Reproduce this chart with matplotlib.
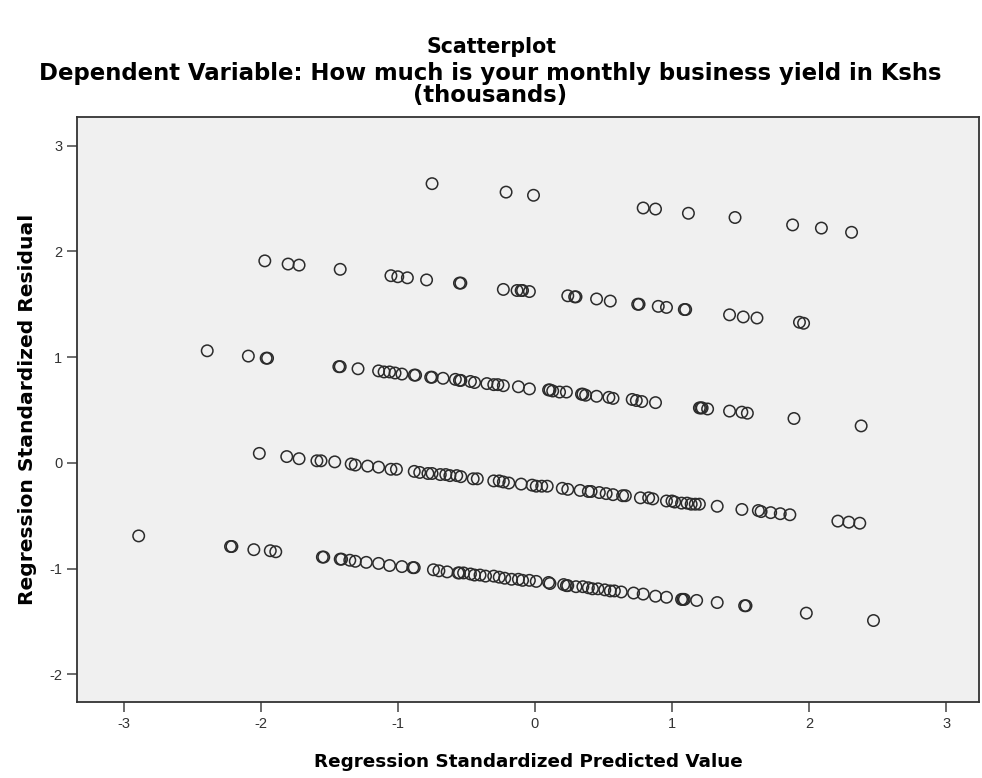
import matplotlib

matplotlib.use("Agg")

import matplotlib.pyplot as plt
import numpy as np

plt.rcParams["font.family"] = ["Liberation Sans", "DejaVu Sans"]
plt.rcParams["axes.unicode_minus"] = False

# Standardized predicted value (x) and standardized residual (y), read off
# the picture band by band (one band per observed yield level).
band1_x = [-0.75, -0.21, -0.01, 0.79, 0.88, 1.12, 1.46, 1.88, 2.09, 2.31]
band1_y = [2.64, 2.56, 2.53, 2.41, 2.40, 2.36, 2.32, 2.25, 2.22, 2.18]

band2_x = [-1.97, -1.80, -1.72, -1.42, -1.05, -1.00, -0.93, -0.79, -0.55,
           -0.54, -0.23, -0.13, -0.10, -0.09, -0.04, 0.24, 0.29, 0.30, 0.45,
           0.55, 0.75, 0.76, 0.90, 0.96, 1.09, 1.10, 1.42, 1.52, 1.62, 1.93,
           1.96]
band2_y = [1.91, 1.88, 1.87, 1.83, 1.77, 1.76, 1.75, 1.73, 1.70, 1.70, 1.64,
           1.63, 1.63, 1.63, 1.62, 1.58, 1.57, 1.57, 1.55, 1.53, 1.50, 1.50,
           1.48, 1.47, 1.45, 1.45, 1.40, 1.38, 1.37, 1.33, 1.32]

band3_x = [-2.39, -2.09, -1.96, -1.95, -1.43, -1.42, -1.29, -1.14, -1.10,
           -1.06, -1.02, -0.97, -0.88, -0.87, -0.76, -0.75, -0.67, -0.58,
           -0.55, -0.54, -0.47, -0.44, -0.35, -0.30, -0.27, -0.23, -0.12,
           -0.04, 0.10, 0.11, 0.13, 0.18, 0.23, 0.34, 0.35, 0.37, 0.45, 0.54,
           0.57, 0.71, 0.74, 0.78, 0.88, 1.20, 1.21, 1.22, 1.26, 1.42, 1.51,
           1.55, 1.89, 2.38]
band3_y = [1.06, 1.01, 0.99, 0.99, 0.91, 0.91, 0.89, 0.87, 0.86, 0.86, 0.85,
           0.84, 0.83, 0.83, 0.81, 0.81, 0.80, 0.79, 0.78, 0.78, 0.77, 0.76,
           0.75, 0.74, 0.74, 0.73, 0.72, 0.70, 0.69, 0.69, 0.68, 0.67, 0.67,
           0.65, 0.65, 0.64, 0.63, 0.62, 0.61, 0.60, 0.59, 0.58, 0.57, 0.52,
           0.52, 0.52, 0.51, 0.49, 0.48, 0.47, 0.42, 0.35]

band4_x = [-2.01, -1.81, -1.72, -1.59, -1.56, -1.46, -1.34, -1.31, -1.22,
           -1.14, -1.05, -1.01, -0.88, -0.84, -0.78, -0.75, -0.69, -0.65,
           -0.62, -0.57, -0.54, -0.45, -0.42, -0.30, -0.26, -0.23, -0.19,
           -0.10, -0.02, 0.01, 0.05, 0.09, 0.20, 0.24, 0.33, 0.39, 0.41, 0.47,
           0.52, 0.57, 0.64, 0.66, 0.77, 0.83, 0.86, 0.96, 1.00, 1.02, 1.07,
           1.11, 1.14, 1.17, 1.20, 1.33, 1.51, 1.63, 1.65, 1.72, 1.79, 1.86,
           2.21, 2.29, 2.37]
band4_y = [0.09, 0.06, 0.04, 0.02, 0.02, 0.01, -0.01, -0.02, -0.03, -0.04,
           -0.06, -0.06, -0.08, -0.09, -0.10, -0.10, -0.11, -0.11, -0.12,
           -0.12, -0.13, -0.15, -0.15, -0.17, -0.17, -0.18, -0.19, -0.20,
           -0.21, -0.22, -0.22, -0.22, -0.24, -0.25, -0.26, -0.27, -0.27,
           -0.28, -0.29, -0.30, -0.31, -0.31, -0.33, -0.33, -0.34, -0.36,
           -0.36, -0.37, -0.38, -0.38, -0.39, -0.39, -0.39, -0.41, -0.44,
           -0.45, -0.46, -0.47, -0.48, -0.49, -0.55, -0.56, -0.57]

band5_x = [-2.89, -2.22, -2.21, -2.05, -1.93, -1.89, -1.55, -1.54, -1.42,
           -1.41, -1.35, -1.31, -1.23, -1.14, -1.06, -0.97, -0.89, -0.88,
           -0.74, -0.70, -0.64, -0.56, -0.55, -0.52, -0.47, -0.44, -0.40,
           -0.36, -0.30, -0.26, -0.22, -0.17, -0.12, -0.09, -0.04, 0.01,
           0.10, 0.11, 0.21, 0.23, 0.24, 0.30, 0.35, 0.39, 0.42, 0.46, 0.51,
           0.55, 0.58, 0.63, 0.72, 0.79, 0.88, 0.96, 1.07, 1.08, 1.09, 1.18,
           1.33, 1.53, 1.54, 1.98, 2.47]
band5_y = [-0.69, -0.79, -0.79, -0.82, -0.83, -0.84, -0.89, -0.89, -0.91,
           -0.91, -0.92, -0.93, -0.94, -0.95, -0.97, -0.98, -0.99, -0.99,
           -1.01, -1.02, -1.03, -1.04, -1.04, -1.04, -1.05, -1.06, -1.06,
           -1.07, -1.07, -1.08, -1.09, -1.10, -1.10, -1.11, -1.11, -1.12,
           -1.13, -1.14, -1.15, -1.16, -1.16, -1.17, -1.17, -1.18, -1.19,
           -1.19, -1.20, -1.21, -1.21, -1.22, -1.23, -1.24, -1.26, -1.27,
           -1.29, -1.29, -1.29, -1.30, -1.32, -1.35, -1.35, -1.42, -1.49]

pred = np.concatenate([band1_x, band2_x, band3_x, band4_x, band5_x])
resid = np.concatenate([band1_y, band2_y, band3_y, band4_y, band5_y])

TICKS = [-3, -2, -1, 0, 1, 2, 3]
YTICKS = [-2, -1, 0, 1, 2, 3]

BOLD = ["DejaVu Sans"]  # wider bold face, closer to the stretched SPSS text

fig = plt.figure(figsize=(9.82, 7.78), dpi=100)
ax = fig.add_axes([0.0784, 0.0977, 0.9186, 0.7519])
ax.set_facecolor("#f0f0f0")

ax.scatter(pred, resid, s=68, facecolors="none", edgecolors="#2b2b2b",
           linewidths=1.1)

ax.set_xlim(-3.34, 3.24)
ax.set_ylim(-2.26, 3.27)
ax.set_xticks(TICKS)
ax.set_yticks(YTICKS)
ax.tick_params(direction="out", length=7, width=1.1, color="#444444",
               labelsize=10.5, labelcolor="#333333")
for side in ("top", "right", "bottom", "left"):
    ax.spines[side].set_linewidth(1.3)
    ax.spines[side].set_color("#333333")

ax.set_xlabel("Regression Standardized Predicted Value", fontsize=13.2,
              fontweight="bold", family=BOLD, labelpad=16)
ax.set_ylabel("Regression Standardized Residual", fontsize=14.6,
              fontweight="bold", family=BOLD, labelpad=9)

fig.text(0.5, 0.940, "Scatterplot", ha="center", va="center", fontsize=14.8,
         fontweight="bold", family=BOLD)
fig.text(0.499, 0.906,
         "Dependent Variable: How much is your monthly business yield in Kshs",
         ha="center", va="center", fontsize=16.4, fontweight="bold",
         family=BOLD)
fig.text(0.499, 0.877, "(thousands)", ha="center", va="center",
         fontsize=16.4, fontweight="bold", family=BOLD)

fig.savefig("out.png", dpi=100)
